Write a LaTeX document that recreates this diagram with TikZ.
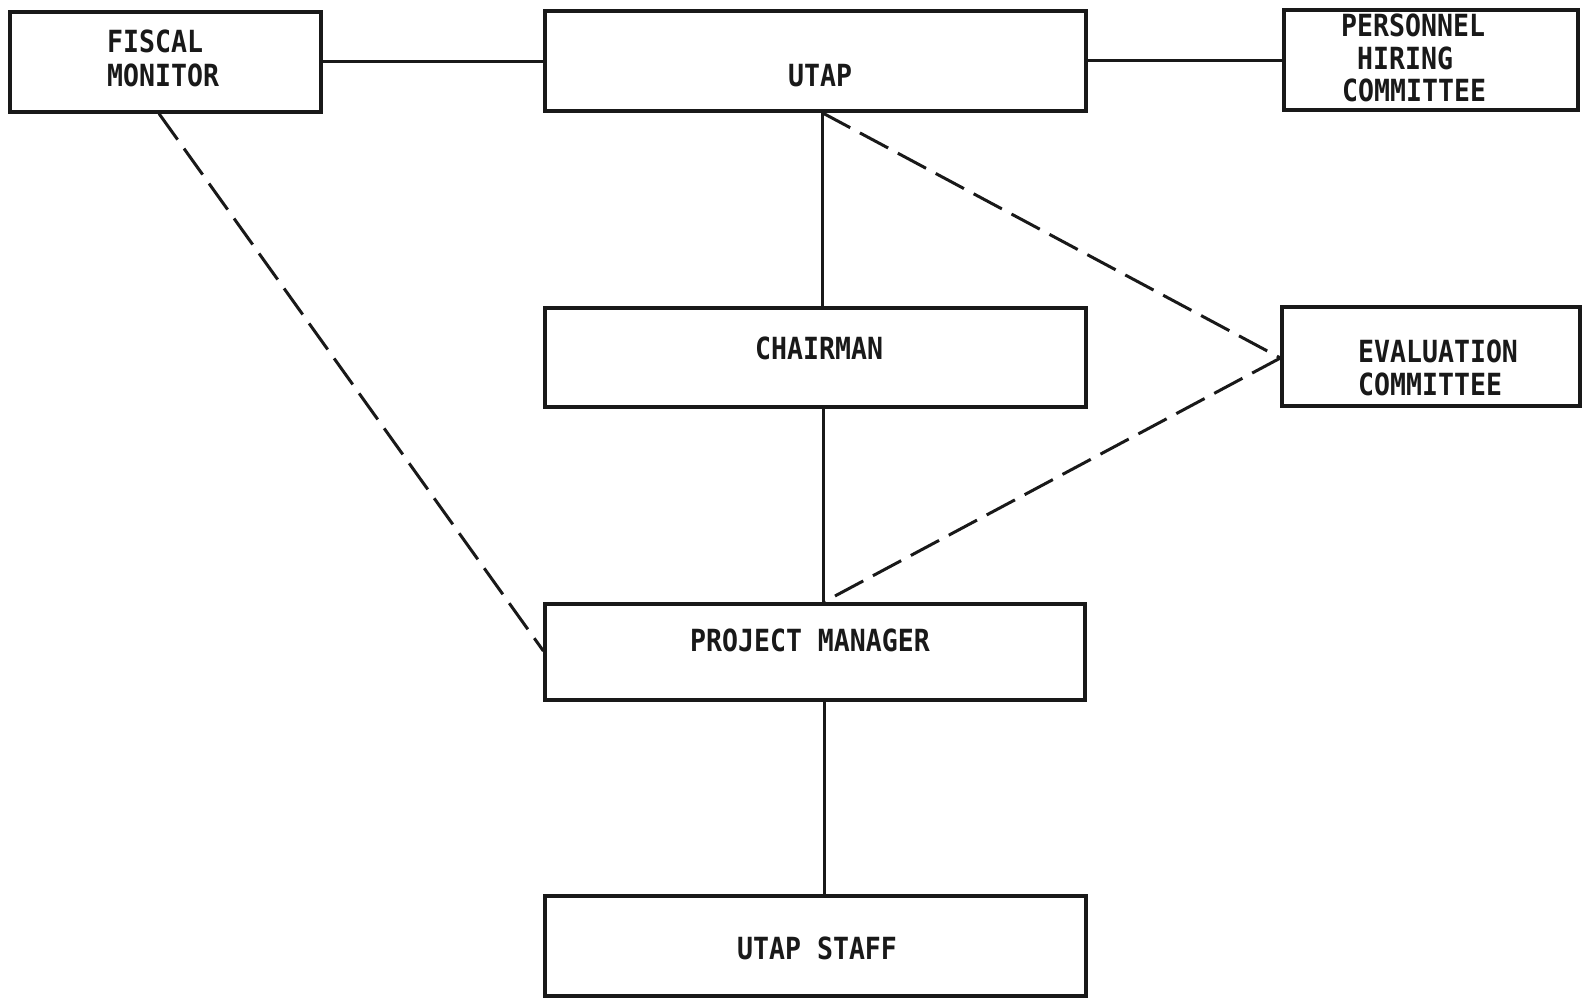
\documentclass[tikz,border=0pt]{standalone}
\usepackage{fontspec}
\usetikzlibrary{fit}
\newfontfamily\typewriter[FakeStretch=0.87]{DejaVu Sans Mono Bold}
\begin{document}
\begin{tikzpicture}[x=1pt,y=-1pt,
  box/.style={draw=black!90, line width=3.2pt, inner sep=0pt},
  lbl/.style={anchor=base west, inner sep=0pt, font=\typewriter\fontsize{30.5}{33}\selectfont, text=black!90},
  solidlink/.style={draw=black!90, line width=3pt},
  dashlink/.style={draw=black!90, line width=3pt, dash pattern=on 32pt off 11pt}]
\useasboundingbox (0,0) rectangle (1583,998);
\fill[white] (0,0) rectangle (1583,998);
% boxes
\node[box, fit={(10,12)(321,112)}] (fiscal) {};
\node[box, fit={(545,11)(1086,111)}] (utap) {};
\node[box, fit={(1284,10)(1578,110)}] (personnel) {};
\node[box, fit={(545,308)(1086,407)}] (chairman) {};
\node[box, fit={(1282,307)(1580,406)}] (eval) {};
\node[box, fit={(545,604)(1085,700)}] (pm) {};
\node[box, fit={(545,896)(1086,996)}] (staff) {};
% labels
\node[lbl] (fiscalA) at (107,53) {FISCAL};
\node[lbl] (fiscalB) at (107,86) {MONITOR};
\node[lbl] (utapT) at (788,86) {UTAP};
\node[lbl] (persA) at (1341,37) {PERSONNEL};
\node[lbl] (persB) at (1357,70) {HIRING};
\node[lbl] (persC) at (1342,102) {COMMITTEE};
\node[lbl] (chairT) at (755,359) {CHAIRMAN};
\node[lbl] (evalA) at (1358,362) {EVALUATION};
\node[lbl] (evalB) at (1358,395) {COMMITTEE};
\node[lbl] (pmT) at (690,651) {PROJECT MANAGER};
\node[lbl] (staffT) at (737,959) {UTAP STAFF};
% connector anchor points
\coordinate (fiscalR) at (fiscal.east |- 0,62);
\coordinate (utapL) at (utap.west |- 0,62);
\coordinate (utapR) at (utap.east |- 0,61);
\coordinate (persL) at (personnel.west |- 0,61);
\coordinate (utapB) at (822,0 |- utap.south);
\coordinate (chairTop) at (822,0 |- chairman.north);
\coordinate (chairBot) at (823,0 |- chairman.south);
\coordinate (pmTop) at (823,0 |- pm.north);
\coordinate (pmBot) at (824,0 |- pm.south);
\coordinate (staffTop) at (824,0 |- staff.north);
\coordinate (evalL) at (eval.west |- 0,358);
\coordinate (fiscalB0) at (159,0 |- fiscal.south);
\coordinate (pmL) at (pm.west |- 0,651);
% solid connectors
\draw[solidlink] (fiscalR) -- (utapL);
\draw[solidlink] (utapR) -- (persL);
\draw[solidlink] (utapB) -- (chairTop);
\draw[solidlink] (chairBot) -- (pmTop);
\draw[solidlink] (pmBot) -- (staffTop);
% dashed connectors
\draw[dashlink] (utapB) -- (evalL);
\draw[dashlink] (evalL) -- (pmTop);
\draw[dashlink] (fiscalB0) -- (pmL);
\end{tikzpicture}
\end{document}
